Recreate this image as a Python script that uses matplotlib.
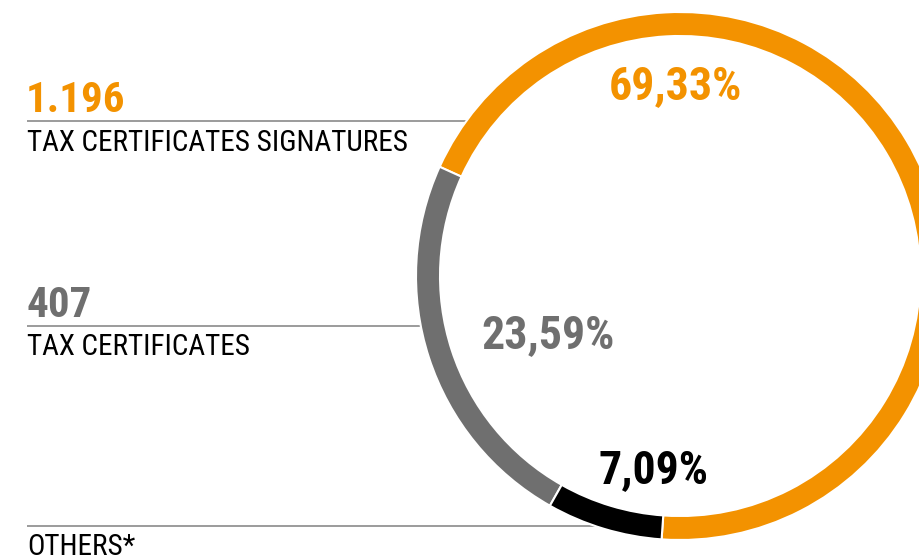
import matplotlib
matplotlib.use("Agg")
import matplotlib.pyplot as plt

# data
labels = ["TAX CERTIFICATES SIGNATURES", "TAX CERTIFICATES", "OTHERS*"]
counts = ["1.196", "407", ""]
shares = [69.33, 23.59, 7.09]
share_labels = ["69,33%", "23,59%", "7,09%"]
colors = ["#F39200", "#6F6F6F", "#000000"]

plt.rcParams['font.family'] = ['Roboto Condensed', 'Archivo Narrow', 'DejaVu Sans']

W, H = 919, 560
fig = plt.figure(figsize=(W / 100, H / 100), dpi=100)
ax = fig.add_axes([0, 0, 1, 1])

cx, cy, R = 680, 284, 264
ax.pie(shares, colors=colors, startangle=266, counterclock=True,
       center=(cx, cy), radius=R,
       wedgeprops=dict(width=24, edgecolor="white", linewidth=1.5, zorder=3))
ax.set_xlim(0, W)
ax.set_ylim(0, H)
ax.set_aspect("equal")
ax.axis("off")

# leader lines (end at outer edge of ring)
line_y = [439, 234, 34]
for y in line_y:
    dx = (R ** 2 - (cy - y) ** 2) ** 0.5
    ax.plot([27, cx - dx], [y, y], color="#8a8a8a", lw=1.2, zorder=1,
            solid_capstyle="butt")

# left labels
count_y = [448, 243]
label_y = [409, 205, 5]
for i in range(3):
    if counts[i]:
        ax.text(26, count_y[i], counts[i], color=colors[i], fontsize=31,
                fontweight="bold", va="baseline", ha="left")
    ax.text(27, label_y[i], labels[i], color="black", fontsize=21,
            va="baseline", ha="left")

# percentages inside ring
pct_xy = [(609, 461), (481, 212), (599, 77)]
for (x, y), s, c in zip(pct_xy, share_labels, colors):
    ax.text(x, y, s, color=c, fontsize=33, fontweight="bold",
            va="baseline", ha="left")

fig.savefig("out.png", dpi=100)
